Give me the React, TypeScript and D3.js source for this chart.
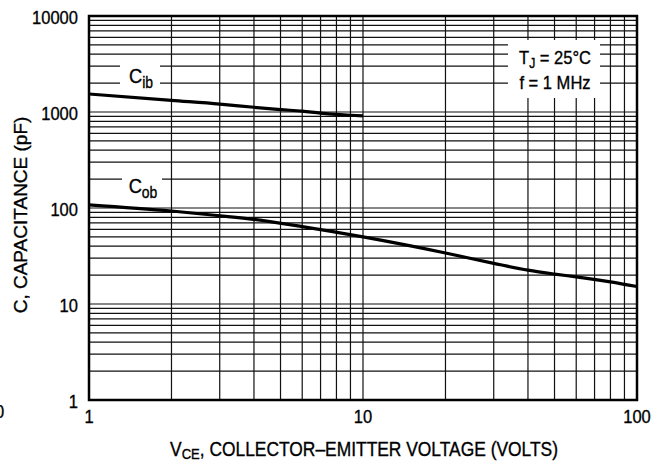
import React, { useRef, useEffect } from "react";
import * as d3 from "d3";

// axis ticks
const voltageTicks = [1, 10, 100];
const capTicks = [1, 10, 100, 1000, 10000];

// C_ib curve (pF vs volts)
const cibVoltage = [1, 2, 3, 4, 5, 6, 7, 8, 9, 10];
const cibCap = [1540, 1320, 1210, 1120, 1060, 1020, 975, 945, 925, 910];

// C_ob curve
const cobVoltage = [1, 2, 3, 4, 6, 10, 20, 30, 40, 50, 60, 80, 100];
const cobCap = [108, 93, 83, 76, 64, 50, 34, 26.5, 22.5, 20.5, 19.2, 17, 15.2];

const FONT = "'Liberation Sans', Arial, sans-serif";
const SQUEEZE = 0.87; // the datasheet face is a condensed Helvetica

const CapacitanceChart: React.FC = () => {
  const ref = useRef<SVGSVGElement | null>(null);

  useEffect(() => {
    const svg = d3.select(ref.current);
    svg.selectAll("*").remove();

    const left = 89, right = 637, top = 16, bottom = 400;

    const x = d3.scaleLog().domain([1, 100]).range([left, right]);
    const y = d3.scaleLog().domain([1, 10000]).range([bottom, top]);

    // grid values: 1..9 per decade
    const xGrid: number[] = [];
    [1, 10].forEach((d) => d3.range(1, 10).forEach((m) => xGrid.push(m * d)));
    xGrid.push(100);
    const yGrid: number[] = [];
    [1, 10, 100, 1000].forEach((d) => d3.range(1, 10).forEach((m) => yGrid.push(m * d)));
    yGrid.push(10000);

    const g = svg.append("g");

    g.selectAll("line.v")
      .data(xGrid)
      .enter()
      .append("line")
      .attr("x1", (d) => x(d))
      .attr("x2", (d) => x(d))
      .attr("y1", top)
      .attr("y2", bottom)
      .attr("stroke", "#111")
      .attr("stroke-width", 1.2);

    g.selectAll("line.h")
      .data(yGrid)
      .enter()
      .append("line")
      .attr("x1", left)
      .attr("x2", right)
      .attr("y1", (d) => y(d))
      .attr("y2", (d) => y(d))
      .attr("stroke", "#111")
      .attr("stroke-width", 1.2);

    // white boxes behind labels (knock out grid)
    const boxes = [
      { x0: 120, x1: 160, y0: 58, y1: 91 },
      { x0: 122, x1: 162, y0: 168, y1: 198 },
      { x0: 508, x1: 600, y0: 40, y1: 98 },
    ];
    g.selectAll("rect.box")
      .data(boxes)
      .enter()
      .append("rect")
      .attr("x", (d) => d.x0)
      .attr("y", (d) => d.y0)
      .attr("width", (d) => d.x1 - d.x0)
      .attr("height", (d) => d.y1 - d.y0)
      .attr("fill", "#fff");

    // border
    g.append("rect")
      .attr("x", left)
      .attr("y", top)
      .attr("width", right - left)
      .attr("height", bottom - top)
      .attr("fill", "none")
      .attr("stroke", "#000")
      .attr("stroke-width", 2.5);

    const line = d3
      .line<[number, number]>()
      .x((d) => x(d[0]))
      .y((d) => y(d[1]))
      .curve(d3.curveMonotoneX);

    const curves = [
      cibVoltage.map((v, i) => [v, cibCap[i]] as [number, number]),
      cobVoltage.map((v, i) => [v, cobCap[i]] as [number, number]),
    ];
    g.selectAll("path.curve")
      .data(curves)
      .enter()
      .append("path")
      .attr("d", (d) => line(d))
      .attr("fill", "none")
      .attr("stroke", "#000")
      .attr("stroke-width", 3.2);

    const txt = g
      .append("g")
      .style("font-family", FONT)
      .attr("fill", "#000")
      .attr("stroke", "#000")
      .attr("stroke-width", 0.35);

    // condensed text placed at (px, py)
    const label = (px: number, py: number, anchor: string, size: number) =>
      txt
        .append("text")
        .attr("transform", `translate(${px},${py}) scale(${SQUEEZE},1)`)
        .attr("text-anchor", anchor)
        .style("font-size", `${size}px`);

    // y tick labels
    capTicks.forEach((d) => label(78, y(d) + 8, "end", 19).text(String(d)));

    // x tick labels
    voltageTicks.forEach((d) => label(x(d), 423, "middle", 19).text(String(d)));

    // stray clipped glyph at left edge
    label(-5, 418, "start", 19).text("0");

    // label with subscript
    const sub = (
      px: number,
      py: number,
      main: string,
      s: string,
      rest: string,
      anchor: string,
      size: number,
      drop: number
    ) => {
      const t = label(px, py, anchor, size);
      t.append("tspan").text(main);
      t.append("tspan")
        .attr("dy", drop)
        .style("font-size", `${Math.round(size * 0.75)}px`)
        .text(s);
      t.append("tspan").attr("dy", -drop).text(rest);
      return t;
    };

    sub(141, 83, "C", "ib", "", "middle", 21, 5);
    sub(143, 193, "C", "ob", "", "middle", 21, 5);
    sub(555, 64, "T", "J", " = 25°C", "middle", 19, 4);
    label(555, 89, "middle", 19).text("f = 1 MHz");

    sub(364, 456, "V", "CE", ", COLLECTOR–EMITTER VOLTAGE (VOLTS)", "middle", 20, 3);

    txt.append("text")
      .attr("transform", `translate(27,215) rotate(-90)`)
      .attr("text-anchor", "middle")
      .style("font-size", "19px")
      .text("C, CAPACITANCE (pF)");
  }, []);

  return (
    <svg
      ref={ref}
      width={672}
      height={464}
      style={{ position: "absolute", left: 0, top: 0, background: "#fff" }}
    />
  );
};

export default function App() {
  return <CapacitanceChart />;
}
